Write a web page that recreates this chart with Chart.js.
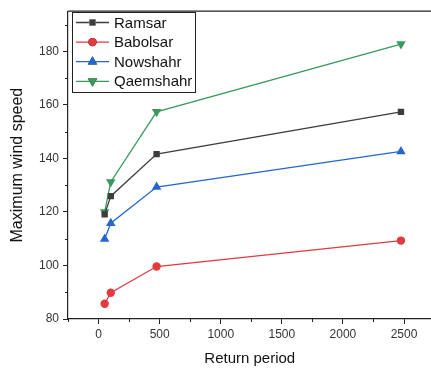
<!DOCTYPE html>
<html>
<head>
<meta charset="utf-8">
<script src="https://cdn.jsdelivr.net/npm/chart.js@4"></script>
<style>
  html, body { margin: 0; padding: 0; background: #fff; overflow: hidden; }
  #wrap { width: 431px; height: 372px; overflow: hidden; }
</style>
</head>
<body>
<div id="wrap"><canvas id="c" width="437" height="372"></canvas></div>
<script>
// return periods (years)
const periods = [50, 100, 475, 2475];
const ramsar    = [119.1, 125.9, 141.6, 157.4];
const babolsar  = [85.7, 89.8, 99.6, 109.3];
const nowshahr  = [109.9, 115.8, 129.3, 142.6];
const qaemshahr = [120.0, 131.2, 157.4, 182.7];
const xTicks = [0, 500, 1000, 1500, 2000, 2500];
const yTicks = [80, 100, 120, 140, 160, 180];

const FONT = '"Liberation Sans", Arial, sans-serif';

function pts(vals) {
    return periods.map((p, i) => ({ x: p, y: vals[i] }));
}

function series(label, vals, color, style, rot, r) {
    return {
        label, data: pts(vals),
        borderColor: color, backgroundColor: color,
        borderWidth: 1.3, pointStyle: style, pointRotation: rot,
        pointRadius: r, pointHoverRadius: r, pointBorderWidth: 0,
        tension: 0
    };
}

// ── frame + minor ticks + legend ──
const extras = {
    id: 'extras',
    afterDraw(chart) {
        const ctx = chart.ctx, a = chart.chartArea;
        const xs = chart.scales.x, ys = chart.scales.y;
        ctx.save();
        ctx.strokeStyle = '#222';
        ctx.lineWidth = 1.2;
        ctx.beginPath();
        ctx.moveTo(a.left, a.top); ctx.lineTo(a.right, a.top);
        ctx.stroke();
        // minor ticks
        ctx.lineWidth = 1;
        ctx.beginPath();
        for (let v = 90; v < 195; v += 20) {
            const y = Math.round(ys.getPixelForValue(v)) + 0.5;
            ctx.moveTo(a.left - 3, y); ctx.lineTo(a.left, y);
        }
        for (let v = -250; v < 2725; v += 500) {
            const x = Math.round(xs.getPixelForValue(v)) + 0.5;
            ctx.moveTo(x, a.bottom); ctx.lineTo(x, a.bottom + 3);
        }
        ctx.stroke();

        // legend
        const lx = 72, ly = 12, lw = 123, lh = 80;
        ctx.fillStyle = '#fff';
        ctx.fillRect(lx, ly, lw, lh);
        ctx.strokeStyle = '#222';
        ctx.lineWidth = 1;
        ctx.strokeRect(lx + 0.5, ly + 0.5, lw, lh);
        ctx.font = '15px ' + FONT;
        ctx.textBaseline = 'middle';
        chart.data.datasets.forEach((ds, i) => {
            const y = ly + 10.5 + i * 19.6;
            ctx.strokeStyle = ds.borderColor;
            ctx.lineWidth = 1.3;
            ctx.beginPath();
            ctx.moveTo(lx + 4, y); ctx.lineTo(lx + 37, y);
            ctx.stroke();
            Chart.helpers.drawPoint(ctx, {
                pointStyle: ds.pointStyle, rotation: ds.pointRotation,
                radius: ds.pointRadius, borderWidth: 0
            }, lx + 20.5, y);
            ctx.fillStyle = ds.backgroundColor;
            ctx.fill();
            ctx.fillStyle = '#111';
            ctx.fillText(ds.label, lx + 42, y + 1);
        });
        ctx.restore();
    }
};

new Chart(document.getElementById('c'), {
    type: 'line',
    data: {
        datasets: [
            series('Ramsar', ramsar, '#3d3d3d', 'rect', 0, 4.5),
            series('Babolsar', babolsar, '#e23a3f', 'circle', 0, 4.2),
            series('Nowshahr', nowshahr, '#2467cc', 'triangle', 0, 5.5),
            series('Qaemshahr', qaemshahr, '#3a9a5c', 'triangle', 180, 5.5)
        ]
    },
    options: {
        responsive: false,
        animation: false,
        layout: { padding: { top: 9, right: 0, left: 0, bottom: 0 } },
        plugins: { legend: { display: false }, tooltip: { enabled: false } },
        scales: {
            x: {
                type: 'linear', min: -250, max: 2725,
                afterBuildTicks: s => { s.ticks = xTicks.map(v => ({ value: v })); },
                afterFit: s => { s.height = 53; },
                grid: { drawOnChartArea: false, tickLength: 5, color: '#222', tickColor: '#222' },
                border: { color: '#222', width: 1.2 },
                ticks: { color: '#333', font: { family: FONT, size: 12 }, padding: 3, maxRotation: 0,
                         callback: v => String(v) },
                title: { display: true, text: 'Return period', color: '#111', font: { family: FONT, size: 15 }, padding: { top: 3 } }
            },
            y: {
                min: 80, max: 195,
                afterBuildTicks: s => { s.ticks = yTicks.map(v => ({ value: v })); },
                afterFit: s => { s.width = 68; },
                grid: { drawOnChartArea: false, tickLength: 5, color: '#222', tickColor: '#222' },
                border: { color: '#222', width: 1.2 },
                ticks: { color: '#333', font: { family: FONT, size: 12 }, padding: 4 },
                title: { display: true, text: 'Maximum wind speed', color: '#111', font: { family: FONT, size: 16 }, padding: { top: 8, bottom: 0 } }
            }
        }
    },
    plugins: [extras]
});
</script>
</body>
</html>
